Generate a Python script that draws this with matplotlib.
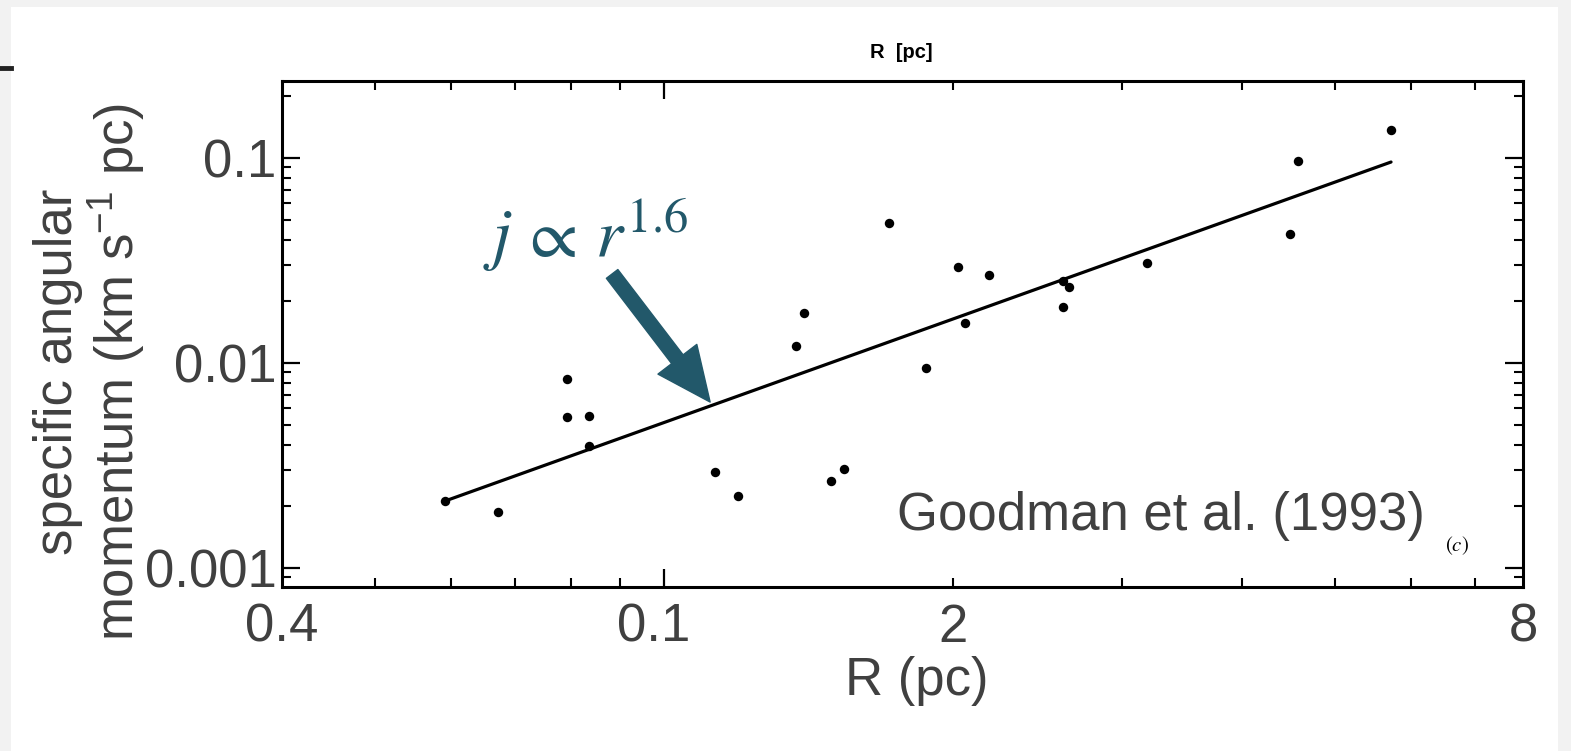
import matplotlib
matplotlib.use('Agg')
import matplotlib.pyplot as plt
from matplotlib.patches import Rectangle
from matplotlib.transforms import blended_transform_factory
from matplotlib.ticker import FixedLocator, LogLocator, NullFormatter
import numpy as np

# ---------------- data ----------------
R_pc = [0.0591, 0.0672, 0.0792, 0.0792, 0.0835, 0.0835, 0.1130, 0.1194,
        0.1372, 0.1399, 0.1493, 0.1540, 0.1715, 0.1875, 0.2024, 0.2059,
        0.2180, 0.2604, 0.2604, 0.2642, 0.3185, 0.4490, 0.4575, 0.5720]
j_vals = [0.00212, 0.001875, 0.00835, 0.00545, 0.00551, 0.00394, 0.00294, 0.00224,
          0.0121, 0.01754, 0.002657, 0.00304, 0.0482, 0.00945, 0.0294, 0.01567,
          0.02688, 0.01876, 0.0251, 0.0235, 0.0307, 0.0426, 0.0967, 0.137]
fit_R = [0.0591, 0.572]
fit_j = [0.00212, 0.0956]

x_tick_pos = [0.04, 0.0975, 0.2, 0.785]
x_tick_labels = ['0.4', '0.1', '2', '8']
y_tick_pos = [0.001, 0.01, 0.1]
y_tick_labels = ['0.001', '0.01', '0.1']
x_major_ticks = [0.1]
x_minor_ticks = [0.05, 0.06, 0.07, 0.08, 0.09, 0.2, 0.3, 0.4, 0.5, 0.6, 0.7]

# ---------------- style ----------------
plt.rcParams['font.family'] = ['Liberation Sans', 'DejaVu Sans']
plt.rcParams['mathtext.fontset'] = 'custom'
plt.rcParams['mathtext.rm'] = 'Liberation Sans'
plt.rcParams['mathtext.it'] = 'Liberation Sans:italic'
plt.rcParams['mathtext.bf'] = 'Liberation Sans:bold'

SLIDE = '#404040'
TEAL = '#22586a'
W, H = 1571, 751

fig = plt.figure(figsize=(W / 100, H / 100), dpi=100, facecolor='#f2f2f2')


def fx(px):
    return px / W


def fy(py):
    return 1 - py / H


fig.add_artist(Rectangle((fx(11), 0), fx(1558) - fx(11), fy(7),
                         transform=fig.transFigure, facecolor='white',
                         edgecolor='none', zorder=-5))
fig.add_artist(plt.Line2D([0, fx(11)], [fy(68), fy(68)], transform=fig.transFigure,
                          color='#222222', lw=3.5, zorder=-4))

ax = fig.add_axes([fx(282), fy(587), fx(1523) - fx(282), fy(81) - fy(587)])
ax.set_facecolor('white')
ax.set_xscale('log')
ax.set_yscale('log')
ax.set_xlim(0.04, 0.785)
ax.set_ylim(0.000808, 0.2375)

for s in ax.spines.values():
    s.set_linewidth(2.2)
    s.set_color('black')

# scanned-plot ticks (inward, all four sides)
ax.xaxis.set_major_locator(FixedLocator(x_major_ticks))
ax.xaxis.set_minor_locator(FixedLocator(x_minor_ticks))
ax.xaxis.set_major_formatter(NullFormatter())
ax.xaxis.set_minor_formatter(NullFormatter())
ax.set_yticks(y_tick_pos, y_tick_labels)
ax.yaxis.set_minor_locator(LogLocator(base=10, subs=np.arange(2, 10)))
ax.yaxis.set_minor_formatter(NullFormatter())

ax.tick_params(which='major', direction='in', length=13, width=1.6,
               top=True, right=True, color='black')
ax.tick_params(which='minor', direction='in', length=6.5, width=1.5,
               top=True, right=True, color='black')
ax.tick_params(axis='y', which='major', labelsize=38, labelcolor=SLIDE, pad=4)

# data
ax.plot(fit_R, fit_j, color='black', lw=2.3, solid_capstyle='round', zorder=3)
ax.plot(R_pc, j_vals, 'o', ms=6.8, color='black', mec='none', zorder=4)

# slide x tick labels
trans = blended_transform_factory(ax.transData, ax.transAxes)
for xp, lab in zip(x_tick_pos, x_tick_labels):
    ax.text(xp, -0.081, lab, transform=trans, ha='center', va='center',
            fontsize=38, color=SLIDE, clip_on=False)

# annotation
ax.text(0.0648, 0.0325, r'$j\,\propto\,r^{1.6}$', math_fontfamily='stix',
        fontsize=50, color=TEAL, ha='left', va='baseline')
ax.annotate('', xy=(0.1117, 0.00645), xytext=(0.0883, 0.0272),
            arrowprops=dict(arrowstyle='simple,head_length=0.97,head_width=0.88,tail_width=0.26',
                            mutation_scale=40, color=TEAL, shrinkA=0, shrinkB=0),
            zorder=5)

# labels
fig.text(fx(917), fy(681), 'R (pc)', ha='center', va='center', fontsize=38, color=SLIDE)
fig.text(fx(90), fy(372), 'specific angular\nmomentum (km s$^{-1}$ pc)', rotation=90,
         ha='center', va='center', multialignment='center', fontsize=38,
         color=SLIDE, linespacing=1.05)
fig.text(fx(897), fy(530), 'Goodman et al. (1993)', ha='left', va='baseline',
         fontsize=38, color=SLIDE)
fig.text(fx(1457), fy(546), r'$(c)$', math_fontfamily='stix', ha='center',
         va='center', fontsize=15, color='black')
fig.text(fx(901), fy(52), 'R  [pc]', ha='center', va='center', fontsize=14.5,
         fontweight='bold', color='black')

fig.savefig('out.png', dpi=100, facecolor=fig.get_facecolor())
